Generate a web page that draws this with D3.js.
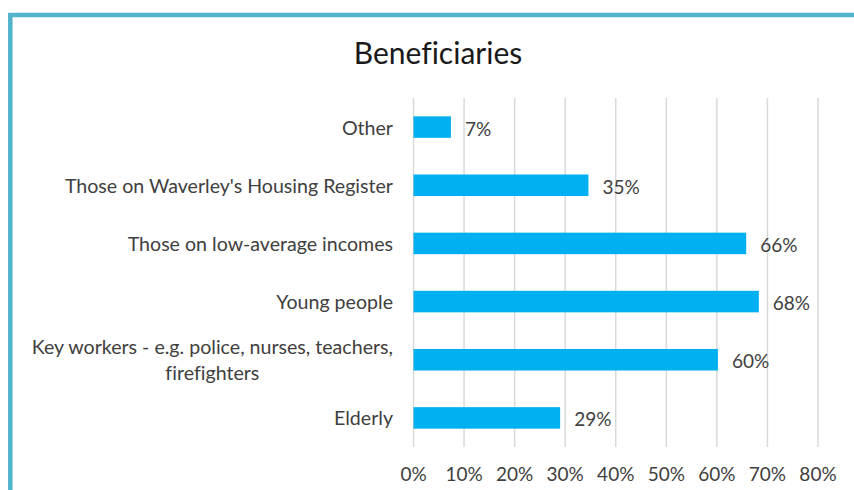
<!DOCTYPE html>
<html>
<head>
<meta charset="utf-8">
<script src="https://cdn.jsdelivr.net/npm/d3@7"></script>
<style>
  html, body { margin: 0; padding: 0; background: #fff; }
  svg { display: block; }
  text { font-family: Lato, "Open Sans", sans-serif; font-variant-ligatures: none; }
</style>
</head>
<body>
<svg id="chart" width="854" height="490"></svg>
<script>
const categories = [
  ["Other"],
  ["Those on Waverley's Housing Register"],
  ["Those on low-average incomes"],
  ["Young people"],
  ["Key workers - e.g. police, nurses, teachers,", "firefighters"],
  ["Elderly"]
];
const values = [7.4, 34.6, 65.8, 68.3, 60.2, 29.0];
const ticks = [0, 10, 20, 30, 40, 50, 60, 70, 80];
const title = "Beneficiaries";

const svg = d3.select("#chart");

// outer border
svg.append("rect")
  .attr("x", 10.3).attr("y", 15)
  .attr("width", 900).attr("height", 600)
  .attr("fill", "none")
  .attr("stroke", "#52b3cd")
  .attr("stroke-width", 4.5);

const x = d3.scaleLinear().domain([0, 80]).range([413.5, 818]);
const keys = categories.map((c, i) => i);
const y = d3.scaleBand().domain(keys).range([98, 447]).paddingInner(0.63).paddingOuter(0.315);

const fs = 19.6;

// gridlines
svg.append("g").selectAll("line").data(ticks).join("line")
  .attr("x1", d => x(d)).attr("x2", d => x(d))
  .attr("y1", 98).attr("y2", 447)
  .attr("stroke", "#d9d9d9").attr("stroke-width", 1.5);

// x-axis tick labels
svg.append("g").selectAll("text").data(ticks).join("text")
  .attr("x", d => x(d)).attr("y", 473)
  .attr("text-anchor", "middle").attr("dominant-baseline", "central")
  .attr("fill", "#404040").attr("font-size", fs - 0.6)
  .text(d => d + "%");

// bars
svg.append("g").selectAll("rect").data(values).join("rect")
  .attr("x", x(0)).attr("y", (d, i) => y(i))
  .attr("width", d => x(d) - x(0))
  .attr("height", y.bandwidth())
  .attr("fill", "#00b0f0");

// value labels
svg.append("g").selectAll("text").data(values).join("text")
  .attr("x", d => x(d) + 14).attr("y", (d, i) => y(i) + y.bandwidth() / 2 + 1)
  .attr("dominant-baseline", "central")
  .attr("fill", "#404040").attr("font-size", fs - 0.6)
  .text(d => Math.round(d) + "%");

// category labels
const labelRight = 393;
categories.forEach((lines, i) => {
  const cy = y(i) + y.bandwidth() / 2;
  if (lines.length === 1) {
    svg.append("text")
      .attr("x", labelRight).attr("y", cy)
      .attr("text-anchor", "end").attr("dominant-baseline", "central")
      .attr("fill", "#404040").attr("font-size", fs)
      .text(lines[0]);
  } else {
    const g = svg.append("g");
    const t1 = g.append("text")
      .attr("x", labelRight).attr("y", cy - 13)
      .attr("text-anchor", "end").attr("dominant-baseline", "central")
      .attr("fill", "#404040").attr("font-size", fs)
      .text(lines[0]);
    const w = t1.node().getComputedTextLength();
    g.append("text")
      .attr("x", labelRight - w / 2).attr("y", cy + 13)
      .attr("text-anchor", "middle").attr("dominant-baseline", "central")
      .attr("fill", "#404040").attr("font-size", fs)
      .text(lines[1]);
  }
});

// title
svg.append("text")
  .attr("x", 438).attr("y", 52)
  .attr("text-anchor", "middle").attr("dominant-baseline", "central")
  .attr("fill", "#1a1a1a").attr("font-size", 30)
  .text(title);
</script>
</body>
</html>
